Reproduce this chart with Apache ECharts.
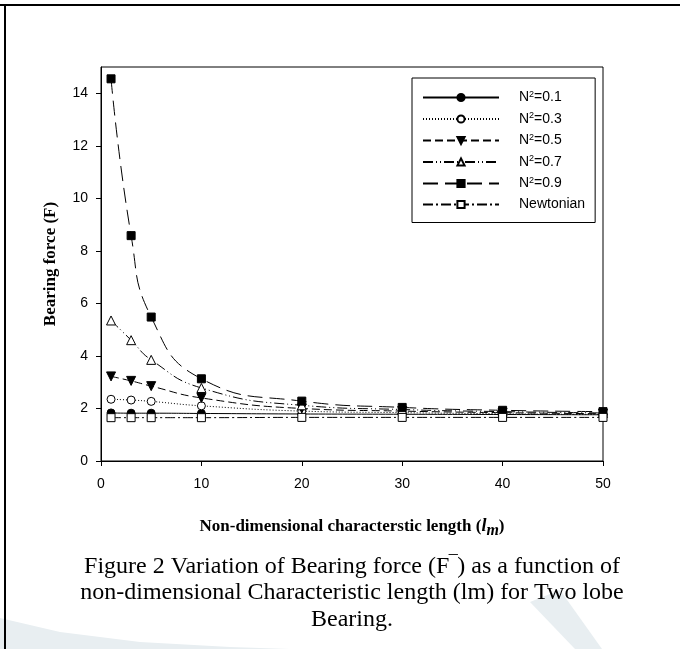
<!DOCTYPE html>
<html>
<head>
<meta charset="utf-8">
<script src="https://cdn.jsdelivr.net/npm/echarts@6/dist/echarts.min.js"></script>
<style>
html, body { margin: 0; padding: 0; background: #fff; }
#main { width: 680px; height: 649px; }
</style>
</head>
<body>
<div id="main"></div>
<script>
// lm values on the x axis
var lmValues = [1, 3, 5, 10, 20, 30, 40, 50];

// bearing force for each N^2
var forceN01 = [1.83, 1.82, 1.82, 1.81, 1.79, 1.78, 1.77, 1.76];
var forceN03 = [2.35, 2.32, 2.27, 2.10, 1.90, 1.84, 1.80, 1.77];
var forceN05 = [3.22, 3.05, 2.85, 2.40, 2.00, 1.90, 1.84, 1.80];
var forceN07 = [5.35, 4.60, 3.85, 2.78, 2.12, 1.96, 1.88, 1.83];
var forceN09 = [14.55, 8.58, 5.48, 3.13, 2.28, 2.04, 1.93, 1.88];
var forceNewton = [1.65, 1.65, 1.65, 1.65, 1.66, 1.66, 1.66, 1.66];

var seriesNames = ['N²=0.1', 'N²=0.3', 'N²=0.5', 'N²=0.7', 'N²=0.9', 'Newtonian'];
var yTicks = [0, 2, 4, 6, 8, 10, 12, 14];

var serif = '"Times New Roman", "Liberation Serif", serif';
var sans = 'Arial, "Liberation Sans", sans-serif';

function pairs(arr) {
	return lmValues.map(function (x, i) { return [x, arr[i]]; });
}

function makeSeries(name, arr, symbol, filled, dash, rotate, size) {
	return {
		name: name,
		type: 'line',
		data: pairs(arr),
		smooth: 0.5,
		symbol: symbol,
		symbolSize: size,
		symbolRotate: rotate || 0,
		showAllSymbol: true,
		lineStyle: { color: '#000', width: 1, type: dash },
		itemStyle: { color: filled ? '#000' : '#fff', borderColor: '#000', borderWidth: 1, opacity: 1 },
		emphasis: { disabled: true },
		z: 2
	};
}

var chart = echarts.init(document.getElementById('main'));

var option = {
	backgroundColor: '#fff',
	animation: false,
	grid: {
		left: 101, right: 77, top: 67, bottom: 188,
		show: true, borderColor: '#000', borderWidth: 1, backgroundColor: 'transparent'
	},
	legend: {
		orient: 'vertical',
		left: 412, top: 78,
		itemWidth: 76, itemHeight: 9, itemGap: 7,
		padding: [12, 10, 11, 10],
		borderColor: '#000', borderWidth: 1,
		backgroundColor: '#fff',
		data: seriesNames,
		formatter: function (name) {
			return name.indexOf('²') >= 0 ? '{b|N}{sup|2}{b|' + name.slice(2) + '}' : '{b|' + name + '}';
		},
		textStyle: {
			color: '#000', fontFamily: sans, fontSize: 14, padding: [0, 0, 0, 15],
			rich: {
				b: { fontFamily: sans, fontSize: 14, color: '#000', lineHeight: 15 },
				sup: { fontFamily: sans, fontSize: 9, color: '#000', verticalAlign: 'top', lineHeight: 8 }
			}
		}
	},
	xAxis: {
		type: 'value',
		min: 0, max: 50, interval: 10,
		name: 'Non-dimensional characterstic length ({it|l}{sub|m})',
		nameLocation: 'middle',
		nameGap: 53,
		nameTextStyle: {
			fontFamily: serif, fontWeight: 'bold', fontSize: 17, color: '#000',
			rich: {
				it: { fontFamily: serif, fontWeight: 'bold', fontStyle: 'italic', fontSize: 18, color: '#000' },
				sub: { fontFamily: serif, fontWeight: 'bold', fontStyle: 'italic', fontSize: 16, color: '#000', padding: [9, 0, 0, 0] }
			}
		},
		axisLine: { show: true, lineStyle: { color: '#000', width: 1 } },
		axisTick: { show: true, length: 5, lineStyle: { color: '#000' } },
		axisLabel: { color: '#000', fontFamily: sans, fontSize: 14, margin: 16 },
		splitLine: { show: false }
	},
	yAxis: {
		type: 'value',
		min: 0, max: 15, interval: 2,
		name: 'Bearing force (F)',
		nameLocation: 'middle',
		nameGap: 42,
		nameTextStyle: { fontFamily: serif, fontWeight: 'bold', fontSize: 17, color: '#000' },
		axisLine: { show: true, lineStyle: { color: '#000', width: 1 } },
		axisTick: { show: true, length: 5, lineStyle: { color: '#000' } },
		axisLabel: {
			color: '#000', fontFamily: sans, fontSize: 14, margin: 13, showMaxLabel: false,
			formatter: function (v) { return yTicks.indexOf(v) >= 0 ? String(v) : ''; }
		},
		splitLine: { show: false }
	},
	series: [
		makeSeries(seriesNames[0], forceN01, 'circle', true, 'solid', 0, 8),
		makeSeries(seriesNames[1], forceN03, 'circle', false, [1, 2], 0, 8),
		makeSeries(seriesNames[2], forceN05, 'triangle', true, [8, 4], 180, 9),
		makeSeries(seriesNames[3], forceN07, 'triangle', false, [10, 3, 1, 3, 1, 3], 0, 9),
		makeSeries(seriesNames[4], forceN09, 'rect', true, [15, 7], 0, 8),
		makeSeries(seriesNames[5], forceNewton, 'rect', false, [10, 3, 2, 3], 0, 8)
	],
	graphic: [
		// faint watermark at the bottom
		{ type: 'polygon', z: -10, silent: true,
		  shape: { points: [[0, 618], [60, 632], [140, 642], [230, 647], [290, 649], [0, 649]] },
		  style: { fill: '#e8eef1' } },
		{ type: 'polygon', z: -10, silent: true,
		  shape: { points: [[530, 602], [560, 590], [602, 649], [575, 649]] },
		  style: { fill: '#e8eef1' } },
		// page frame
		{ type: 'rect', silent: true, shape: { x: 0, y: 4, width: 680, height: 2 }, style: { fill: '#000' } },
		{ type: 'rect', silent: true, shape: { x: 4, y: 4, width: 2, height: 645 }, style: { fill: '#000' } },
		// caption
		{ type: 'text', silent: true, x: 352, y: 553,
		  style: { text: 'Figure 2 Variation of Bearing force (F\u203E) as a function of\nnon-dimensional Characteristic length (lm) for Two lobe\nBearing.',
		           fontFamily: serif, fontSize: 24, lineHeight: 26.5, fill: '#000', align: 'center', verticalAlign: 'top' } }
	]
};

chart.setOption(option);
</script>
</body>
</html>
